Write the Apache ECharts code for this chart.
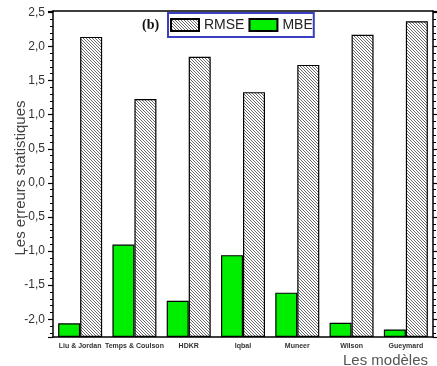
<!DOCTYPE html>
<html>
<head>
<meta charset="utf-8">
<script src="https://cdn.jsdelivr.net/npm/echarts@6/dist/echarts.min.js"></script>
<style>
  html, body { margin: 0; padding: 0; background: #fff; }
  #chart { width: 437px; height: 366px; }
</style>
</head>
<body>
<div id="chart"></div>
<script>
// Models compared and their statistical errors
const categories = ['Liu & Jordan', 'Temps & Coulson', 'HDKR', 'Iqbal', 'Muneer', 'Wilson', 'Gueymard'];
const rmse = [2.14, 1.23, 1.85, 1.33, 1.73, 2.17, 2.37];
const mbe = [-2.06, -0.905, -1.73, -1.06, -1.61, -2.05, -2.15];

// Value axis range (bars rise from the bottom of the axis)
const yMin = -2.26;
const yMax = 2.52;

// Diagonal hatch used for the RMSE bars
function hatchPattern() {
  const c = document.createElement('canvas');
  c.width = 3; c.height = 3;
  const g = c.getContext('2d');
  g.fillStyle = '#ffffff';
  g.fillRect(0, 0, 3, 3);
  g.fillStyle = '#6a6a6a';
  for (let i = 0; i < 3; i++) g.fillRect(i, i, 1, 1);
  return c;
}
const hatch = { image: hatchPattern(), repeat: 'repeat' };

const axisLineStyle = { color: '#000', width: 1.5 };
const FONT = 'Liberation Sans, Arial, sans-serif';

function fmt(v) {
  const r = Math.round(v * 2);
  if (Math.abs(v * 2 - r) > 1e-6) return '';
  return (r / 2).toFixed(1).replace('.', ',');
}

const baseSeries = (stack) => ({
  type: 'bar', name: stack + '-base', stack: stack, stackStrategy: 'all',
  barWidth: 22, barGap: '0%', silent: true,
  itemStyle: { color: 'transparent', borderWidth: 0 },
  emphasis: { disabled: true },
  data: categories.map(() => yMin)
});

const chart = echarts.init(document.getElementById('chart'), null, { renderer: 'canvas' });
chart.setOption({
  animation: false,
  grid: { left: 53, right: 4, top: 11, bottom: 29, containLabel: false },
  legend: {
    data: ['RMSE', 'MBE'],
    left: 168, top: 13,
    itemWidth: 28, itemHeight: 12, itemGap: 4,
    padding: [5, 1, 5, 2],
    borderColor: '#3b3fbf', borderWidth: 2,
    icon: 'rect',
    textStyle: { fontFamily: FONT, fontSize: 14, color: '#222' }
  },
  xAxis: [
    {
      type: 'category', data: categories, position: 'bottom',
      axisLine: { onZero: false, lineStyle: axisLineStyle },
      axisTick: { alignWithLabel: true, length: 5, lineStyle: { color: '#000', width: 1.2 } },
      axisLabel: { fontFamily: FONT, fontSize: 7, fontWeight: 'bold', color: '#333', margin: 6, interval: 0 }
    },
    {
      type: 'category', data: categories, position: 'bottom',
      axisLine: { show: false, onZero: false },
      axisTick: { length: 3, lineStyle: { color: '#000', width: 1 } },
      axisLabel: { show: false }
    },
    {
      type: 'category', data: categories, position: 'top',
      axisLine: { onZero: false, lineStyle: axisLineStyle },
      axisTick: { alignWithLabel: true, length: 6, lineStyle: { color: '#000', width: 1.2 } },
      axisLabel: { show: false }
    },
    {
      type: 'category', data: categories, position: 'top',
      axisLine: { show: false, onZero: false },
      axisTick: { length: 3, lineStyle: { color: '#000', width: 1 } },
      axisLabel: { show: false }
    }
  ],
  yAxis: [
    {
      type: 'value', min: yMin, max: yMax, splitNumber: 10, position: 'left',
      axisLine: { show: true, onZero: false, lineStyle: axisLineStyle },
      axisTick: { show: true, length: 5, lineStyle: { color: '#000', width: 1.2 } },
      minorTick: { show: true, splitNumber: 5, length: 3, lineStyle: { color: '#000', width: 1 } },
      splitLine: { show: false },
      axisLabel: { fontFamily: FONT, fontSize: 12, color: '#333', margin: 8, formatter: fmt, showMinLabel: true, showMaxLabel: true }
    },
    {
      type: 'value', min: yMin, max: yMax, splitNumber: 10, position: 'right',
      axisLine: { show: true, onZero: false, lineStyle: axisLineStyle },
      axisTick: { show: true, length: 5, lineStyle: { color: '#000', width: 1.2 } },
      minorTick: { show: true, splitNumber: 5, length: 3, lineStyle: { color: '#000', width: 1 } },
      splitLine: { show: false },
      axisLabel: { show: false }
    }
  ],
  series: [
    baseSeries('mbe'),
    {
      type: 'bar', name: 'MBE', stack: 'mbe', stackStrategy: 'all',
      barWidth: 22, barGap: '0%',
      itemStyle: { color: '#00ee00', borderColor: '#000', borderWidth: 1.2 },
      data: mbe.map(v => v - yMin)
    },
    baseSeries('rmse'),
    {
      type: 'bar', name: 'RMSE', stack: 'rmse', stackStrategy: 'all',
      barWidth: 22, barGap: '0%',
      itemStyle: { color: hatch, borderColor: '#000', borderWidth: 1.2 },
      data: rmse.map(v => v - yMin)
    }
  ],
  graphic: [
    {
      type: 'text', left: 142, top: 18,
      style: { text: '(b)', font: 'bold 14px "Liberation Serif", "Times New Roman", serif', fill: '#111' }
    },
    {
      type: 'text', x: 21, y: 178, rotation: Math.PI / 2,
      style: { text: 'Les erreurs statistiques', font: '15px "Liberation Sans", Arial, sans-serif', fill: '#444', align: 'center', verticalAlign: 'middle' }
    },
    {
      type: 'text', x: 428, y: 361,
      style: { text: 'Les modèles', font: '15px "Liberation Sans", Arial, sans-serif', fill: '#555', align: 'right', verticalAlign: 'middle' }
    }
  ]
});
</script>
</body>
</html>
